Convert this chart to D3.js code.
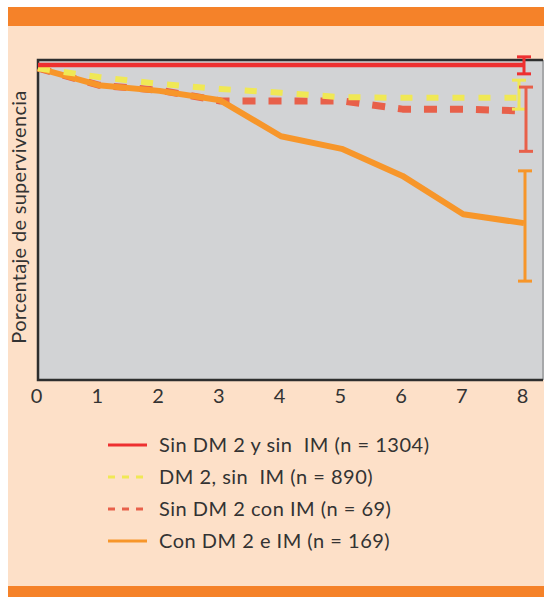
<!DOCTYPE html>
<html>
<head>
<meta charset="utf-8">
<script src="https://cdn.jsdelivr.net/npm/d3@7"></script>
<style>
  body { margin: 0; background: #fff; }
  svg text { font-family: Lato, "Open Sans", sans-serif; fill: #333; white-space: pre; }
</style>
</head>
<body>
<svg id="chart" width="544" height="597"></svg>
<script>
// years of follow-up
var years = [0, 1, 2, 3, 4, 5, 6, 7, 8];
// survival (%) per group
var sinDmSinIm = [100, 100, 100, 100, 100, 100, 100, 100, 100];
var dmSinIm = [99.5, 98.1, 97.0, 96.2, 95.6, 94.9, 94.8, 94.8, 94.8];
var sinDmConIm = [99.5, 96.8, 96.0, 94.3, 94.3, 94.3, 93.0, 93.0, 92.7];
var conDmConIm = [99.5, 96.8, 95.9, 94.4, 88.7, 86.7, 82.4, 76.3, 74.9];
// error bars at year 8 : [low, high]
var errSinDmSinIm = [98.6, 101.3];
var errDmSinIm = [93.0, 97.6];
var errSinDmConIm = [86.3, 96.5];
var errConDmConIm = [65.7, 83.2];
var legendLabels = ["Sin DM 2 y sin  IM (n = 1304)", "DM 2, sin  IM (n = 890)",
                    "Sin DM 2 con IM (n = 69)", "Con DM 2 e IM (n = 169)"];

var series = [
  {label: legendLabels[0], values: sinDmSinIm, err: errSinDmSinIm, color: "#ee3030", width: 4.5, dash: null, dx: 0},
  {label: legendLabels[1], values: dmSinIm, err: errDmSinIm, color: "#f0e855", width: 6, dash: "12,14", dx: -5},
  {label: legendLabels[2], values: sinDmConIm, err: errSinDmConIm, color: "#e8604a", width: 7, dash: "13,13", dx: 2},
  {label: legendLabels[3], values: conDmConIm, err: errConDmConIm, color: "#f7962a", width: 6, dash: null, dx: 1}
];

var svg = d3.select("#chart");

// panel background + orange bands
svg.append("rect").attr("x", 8).attr("y", 7).attr("width", 536).attr("height", 590).attr("fill", "#fde0c8");
svg.append("rect").attr("x", 8).attr("y", 7).attr("width", 536).attr("height", 19).attr("fill", "#f58229");
svg.append("rect").attr("x", 8).attr("y", 586).attr("width", 536).attr("height", 11).attr("fill", "#f58229");

var x = d3.scaleLinear().domain([0, 8]).range([38, 524]);
var y = d3.scaleLinear().domain([50, 100.8]).range([380, 60]);

// plot area
var pLeft = 38, pRight = 543, pTop = y(100.8), pBottom = y(50);
svg.append("rect").attr("x", pLeft).attr("y", pTop).attr("width", pRight - pLeft).attr("height", pBottom - pTop)
  .attr("fill", "#d2d3d5");
svg.append("line").attr("x1", pRight).attr("x2", pRight).attr("y1", pTop).attr("y2", pBottom)
  .attr("stroke", "#a7a8aa").attr("stroke-width", 2);
svg.append("path").attr("d", `M${pRight},${pTop}H${pLeft}V${pBottom}H${pRight}`)
  .attr("fill", "none").attr("stroke", "#2e2e2e").attr("stroke-width", 2.5);

// x axis labels
svg.append("g")
  .attr("transform", "translate(0," + pBottom + ")")
  .call(d3.axisBottom(x).ticks(8).tickSize(0).tickPadding(9))
  .call(g => g.select(".domain").remove())
  .selectAll("text")
    .attr("dx", -2)
    .style("font-size", "20px")
    .style("font-family", "Lato, 'Open Sans', sans-serif")
    .attr("fill", "#333");

// y label
svg.append("text")
  .attr("transform", "translate(26," + ((pTop + pBottom) / 2 - 3) + ") rotate(-90)")
  .attr("text-anchor", "middle")
  .style("font-size", "20px")
  .style("letter-spacing", "0.3px")
  .text("Porcentaje de supervivencia");

var line = d3.line().x((d, i) => x(years[i])).y(d => y(d));

// draw from bottom layer to top: red dashed, orange, yellow, red
var order = [2, 3, 1, 0];
order.forEach(function(k) {
  var s = series[k];
  svg.append("path")
    .datum(s.values)
    .attr("d", line)
    .attr("fill", "none")
    .attr("stroke", s.color)
    .attr("stroke-width", s.width)
    .attr("stroke-dasharray", s.dash)
    .attr("stroke-linejoin", "round");
});

// error bars at year 8
[3, 1, 2, 0].forEach(function(k) {
  var s = series[k];
  var ex = x(8) + s.dx;
  var g = svg.append("g").attr("stroke", s.color).attr("stroke-width", 3);
  g.append("line").attr("x1", ex).attr("x2", ex).attr("y1", y(s.err[0])).attr("y2", y(s.err[1]));
  g.append("line").attr("x1", ex - 7).attr("x2", ex + 7).attr("y1", y(s.err[0])).attr("y2", y(s.err[0]));
  g.append("line").attr("x1", ex - 7).attr("x2", ex + 7).attr("y1", y(s.err[1])).attr("y2", y(s.err[1]));
});

// legend
var lg = svg.append("g");
series.forEach(function(s, i) {
  var ly = 445 + i * 32;
  lg.append("line")
    .attr("x1", 108).attr("x2", 147).attr("y1", ly).attr("y2", ly)
    .attr("stroke", s.color).attr("stroke-width", 3)
    .attr("stroke-dasharray", s.dash ? "7,7" : null);
  lg.append("text")
    .attr("x", 159).attr("y", ly)
    .attr("dy", "0.36em")
    .style("font-size", "20px")
    .style("letter-spacing", "0.5px")
    .text(s.label);
});
</script>
</body>
</html>
